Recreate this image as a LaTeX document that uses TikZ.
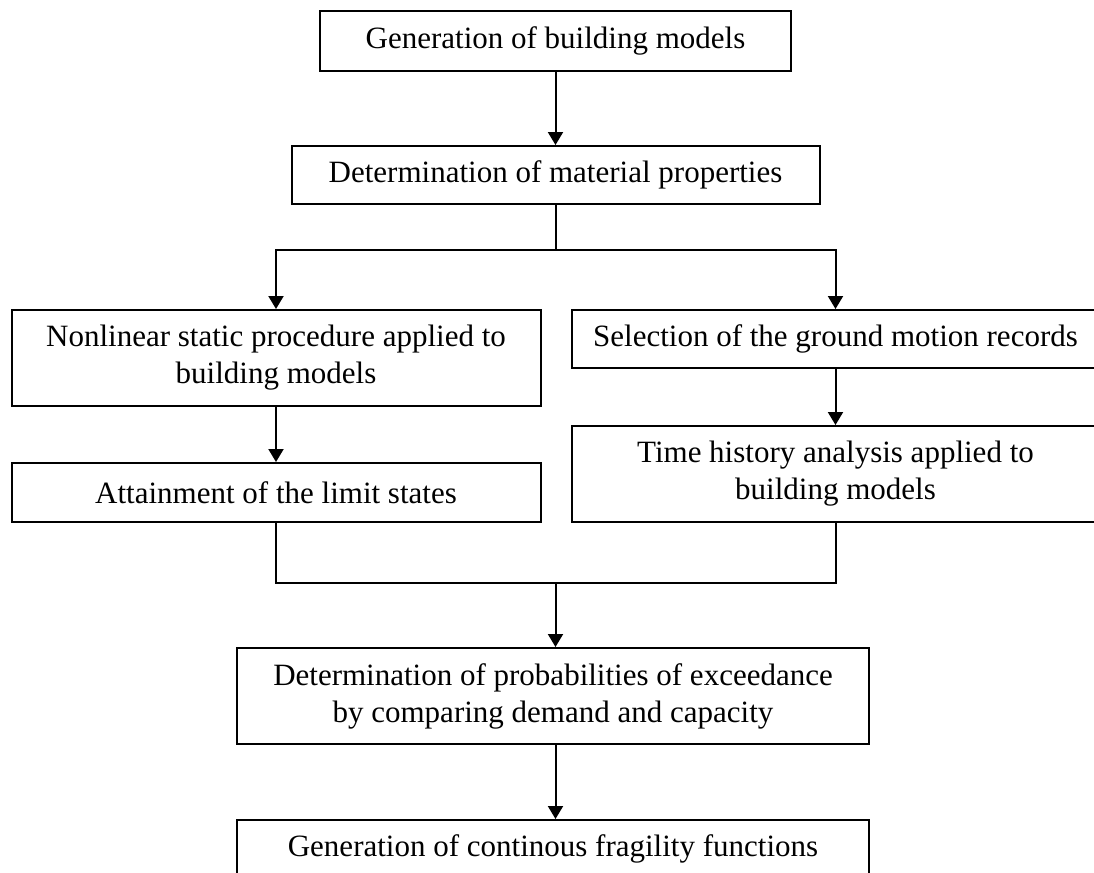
\documentclass[tikz,border=0pt]{standalone}
\usepackage{fontspec}
\setmainfont{Liberation Serif}
\usetikzlibrary{arrows.meta, positioning, calc}

\begin{document}
\begin{tikzpicture}[
    x=1pt, y=1pt,
    node distance=28pt and 14.5pt,
    box/.style={rectangle, draw=black, line width=1pt, minimum height=29pt,
                align=center, inner sep=2pt,
                font=\fontsize{15.5pt}{18.5pt}\selectfont},
    tallbox/.style={box, minimum height=48pt},
    arrow/.style={-{Triangle[width=7.5pt,length=6.5pt]}, line width=1pt}
  ]
    \useasboundingbox (0,0) rectangle (547,-436.5);
    \clip (0,0) rectangle (547,-436.5);
    % Models
    \node[box, minimum width=235.5pt, minimum height=30pt] (gen) at (277.75,-20.5) {Generation of building models};
    % Material
    \node[box, minimum width=264pt, below=36.5pt of gen] (mat) {Determination of material properties};
    % Static branch
    \node[tallbox, minimum width=264.5pt, below left=52pt and 7pt of mat.south] (nsp) {Nonlinear static procedure applied to\\building models};
    \node[box, minimum width=264.5pt, minimum height=29.5pt, below=27.5pt of nsp] (lim) {Attainment of the limit states};
    % Dynamic branch
    \node[box, minimum width=264pt, below right=52pt and 7.5pt of mat.south] (gm) {Selection of the ground motion records};
    \node[tallbox, minimum width=264pt, below=28pt of gm] (tha) {Time history analysis applied to\\building models};
    % Probabilities
    \node[tallbox, minimum width=316pt, anchor=north] (prob) at (276.5,-323.5) {Determination of probabilities of exceedance\\by comparing demand and capacity};
    % Fragility
    \node[box, minimum width=316pt, below=37pt of prob] (frag) {Generation of continous fragility functions};

    % Connectors
    \coordinate (split) at ($(mat.south)+(0,-22.5)$);
    \coordinate (join) at ($(mat.south |- lim.south)+(0,-30)$);
    \draw[arrow] (gen) -- (mat);
    \draw[line width=1pt] (mat.south) -- (split);
    \draw[arrow] (split) -| (nsp.north);
    \draw[arrow] (split) -| (gm.north);
    \draw[arrow] (nsp) -- (lim);
    \draw[arrow] (gm) -- (tha);
    \draw[line width=1pt] (lim.south) |- (join) -| (tha.south);
    \draw[arrow] (join) -- (join |- prob.north);
    \draw[arrow] (prob.south -| join) -- (join |- frag.north);
  \end{tikzpicture}
\end{document}
